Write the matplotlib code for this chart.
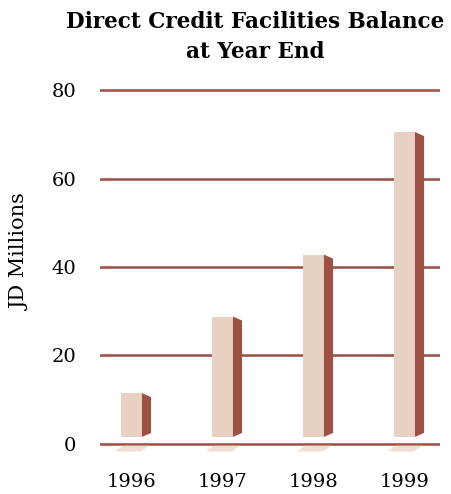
import matplotlib.pyplot as plt
from matplotlib.patches import Polygon

# data
years = ['1996', '1997', '1998', '1999']
balance = [11.5, 28.8, 42.8, 70.5]   # JD millions
yticks = [0, 20, 40, 60, 80]

FRONT = '#e8d0c3'
SIDE = '#9b5143'
GRID = '#a0564a'
SHADOW = '#f1dfd5'

fig = plt.figure(figsize=(4.52, 4.94), dpi=100)
ax = fig.add_axes([100 / 452, 0.0654, 340 / 452, 0.7703])
ax.set_xlim(-0.346, 3.39)
ax.set_ylim(-4, 82)

# grid lines behind the bars
for t in yticks:
    ax.axhline(t, color=GRID, lw=1.9, zorder=1)

xs = list(range(len(years)))
w = 0.23       # front face width
dx = 0.10      # depth of side face
dy = 0.9       # slant of side face
base = 1.6     # bars float a bit above the zero line

ax.bar(xs, [v - base for v in balance], bottom=base, width=w,
       color=FRONT, zorder=3, linewidth=0)

for x, v in zip(xs, balance):
    xl = x - w / 2
    xr = x + w / 2
    side = Polygon([(xr, base), (xr + dx, base + dy), (xr + dx, v - dy), (xr, v)],
                   closed=True, fc=SIDE, ec='none', zorder=3)
    ax.add_patch(side)
    # floor shadow under the zero line
    shadow = Polygon([(xl + 0.02, -0.4), (xr + dx - 0.02, -0.4),
                      (xr + dx - 0.11, -1.7), (xl - 0.07, -1.7)],
                     closed=True, fc=SHADOW, ec='none', zorder=2)
    ax.add_patch(shadow)

ax.set_yticks(yticks)
ax.set_yticklabels([str(t) for t in yticks], fontfamily='DejaVu Serif', fontsize=14)
ax.set_xticks(xs)
ax.set_xticklabels(years, fontfamily='DejaVu Serif', fontsize=14)
ax.tick_params(axis='y', length=0, pad=17)
ax.tick_params(axis='x', length=0, pad=8)
for s in ax.spines.values():
    s.set_visible(False)

fig.text(20 / 452, 1 - 252 / 494, 'JD Millions', rotation=90, ha='center', va='center',
         fontfamily='DejaVu Serif', fontsize=15)
fig.text(255 / 452, 1 - 37 / 494, 'Direct Credit Facilities Balance\nat Year End',
         ha='center', va='center', fontfamily='DejaVu Serif', fontweight='bold',
         fontsize=15.5, linespacing=1.45)

fig.savefig('out.png', dpi=100)
